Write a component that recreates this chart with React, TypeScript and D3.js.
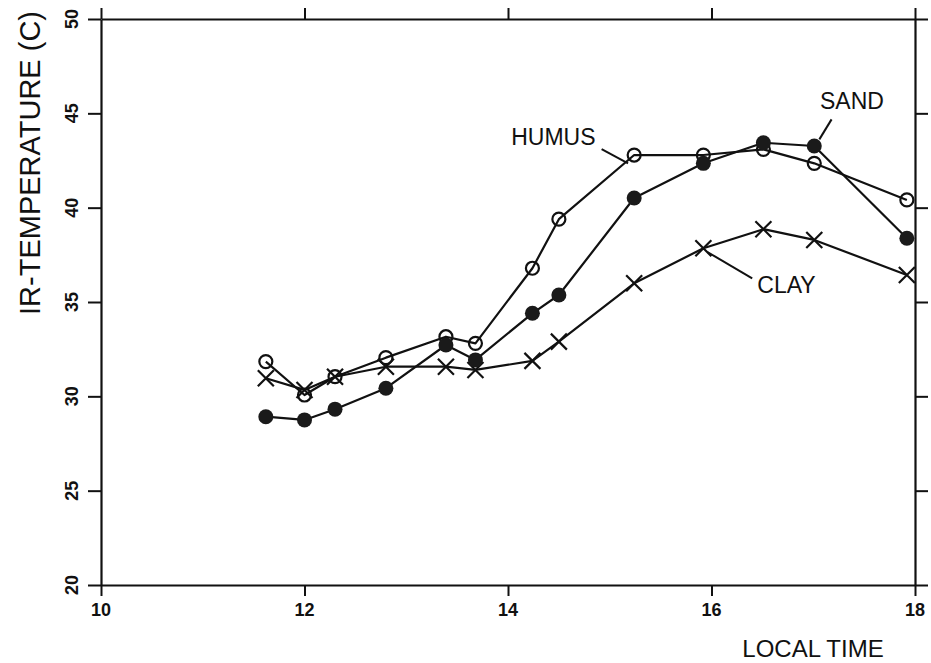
import React, { useEffect, useRef } from 'react';
import * as d3 from 'd3';

// local time (hours) of each reading, shared by the three surfaces
const times = [11.62, 12.0, 12.3, 12.8, 13.39, 13.68, 14.24, 14.5, 15.24, 15.92, 16.51, 17.01, 17.92];

const humus = [31.84, 30.07, 31.04, 32.05, 33.16, 32.81, 36.79, 39.39, 42.79, 42.79, 43.09, 42.35, 40.41];
const sand = [28.92, 28.75, 29.32, 30.43, 32.72, 31.93, 34.4, 35.37, 40.51, 42.35, 43.44, 43.27, 38.38];
const clay = [30.96, 30.34, 31.04, 31.57, 31.57, 31.4, 31.88, 32.9, 35.99, 37.85, 38.86, 38.29, 36.43];

const xTicks = [10, 12, 14, 16, 18];
const yTicks = [20, 25, 30, 35, 40, 45, 50];

interface Series {
  name: string;
  values: number[];
  marker: 'open' | 'filled' | 'cross';
  // label text anchor + leader line, in data units
  label: { x: number; y: number; anchor: string; from: [number, number]; to: [number, number] };
}

const series: Series[] = [
  { name: 'CLAY', values: clay, marker: 'cross',
    label: { x: 16.45, y: 35.48, anchor: 'start', from: [16.4, 36.25], to: [15.96, 37.65] } },
  { name: 'HUMUS', values: humus, marker: 'open',
    label: { x: 14.86, y: 43.3, anchor: 'end', from: [14.92, 43.1], to: [15.18, 42.35] } },
  { name: 'SAND', values: sand, marker: 'filled',
    label: { x: 17.38, y: 45.23, anchor: 'middle', from: [17.18, 44.68], to: [17.06, 43.62] } },
];

const W = 931;
const H = 663;
const margin = { top: 19, right: 16, bottom: 78, left: 101 };
const FONT = '"Liberation Sans", Arial, sans-serif';

const Chart: React.FC = () => {
  const ref = useRef<SVGSVGElement>(null);

  useEffect(() => {
    drawChart();
  }, []);

  const drawChart = () => {
    const svg = d3.select(ref.current);
    svg.selectAll('*').remove();
    const width = W - margin.left - margin.right;
    const height = H - margin.top - margin.bottom;

    const x = d3.scaleLinear().domain([10, 18]).range([0, width]);
    const y = d3.scaleLinear().domain([20, 50]).range([height, 0]);

    const g = svg.append('g').attr('transform', `translate(${margin.left},${margin.top})`);

    // frame: four axes, ticks pointing outward, labels drawn separately
    g.append('g')
      .attr('transform', `translate(0,${height})`)
      .call(d3.axisBottom(x).tickValues(xTicks).tickSizeInner(11).tickSizeOuter(0).tickFormat(() => ''));
    g.append('g')
      .call(d3.axisTop(x).tickValues(xTicks).tickSizeInner(11).tickSizeOuter(0).tickFormat(() => ''));
    g.append('g')
      .call(d3.axisLeft(y).tickValues(yTicks).tickSizeInner(13).tickSizeOuter(0).tickFormat(() => ''));
    g.append('g')
      .attr('transform', `translate(${width},0)`)
      .call(d3.axisRight(y).tickValues(yTicks).tickSizeInner(13).tickSizeOuter(0).tickFormat(() => ''));

    g.selectAll('.domain').attr('stroke', '#111').attr('stroke-width', 2.2);
    g.selectAll('.tick line').attr('stroke', '#111').attr('stroke-width', 2);

    // tick labels
    g.append('g').selectAll('text').data(xTicks).enter().append('text')
      .attr('x', d => x(d))
      .attr('y', height + 31)
      .attr('text-anchor', 'middle')
      .attr('font-family', FONT)
      .attr('font-size', 18)
      .attr('font-weight', 'bold')
      .attr('fill', '#111')
      .text(d => d);

    g.append('g').selectAll('text').data(yTicks).enter().append('text')
      .attr('transform', d => `translate(-23,${y(d)}) rotate(-90)`)
      .attr('text-anchor', 'middle')
      .attr('font-family', FONT)
      .attr('font-size', 18)
      .attr('font-weight', 'bold')
      .attr('fill', '#111')
      .text(d => d);

    const line = d3.line<number>()
      .x((_, i) => x(times[i]))
      .y(d => y(d));

    series.forEach(s => {
      g.append('path')
        .datum(s.values)
        .attr('fill', 'none')
        .attr('stroke', '#111')
        .attr('stroke-width', 2.2)
        .attr('stroke-linejoin', 'round')
        .attr('d', line);

      const pts = g.append('g');
      if (s.marker === 'open') {
        pts.selectAll('circle').data(s.values).enter().append('circle')
          .attr('cx', (_, i) => x(times[i]))
          .attr('cy', d => y(d))
          .attr('r', 6.5)
          .attr('fill', 'none')
          .attr('stroke', '#111')
          .attr('stroke-width', 2.2);
      } else if (s.marker === 'filled') {
        pts.selectAll('circle').data(s.values).enter().append('circle')
          .attr('cx', (_, i) => x(times[i]))
          .attr('cy', d => y(d))
          .attr('r', 7.5)
          .attr('fill', '#1a1a1a');
      } else {
        const sz = 8;
        pts.selectAll('path').data(s.values).enter().append('path')
          .attr('transform', (d, i) => `translate(${x(times[i])},${y(d)})`)
          .attr('d', `M${-sz},${-sz}L${sz},${sz}M${-sz},${sz}L${sz},${-sz}`)
          .attr('stroke', '#111')
          .attr('stroke-width', 2.2);
      }

      // series label with leader line
      g.append('line')
        .attr('x1', x(s.label.from[0])).attr('y1', y(s.label.from[1]))
        .attr('x2', x(s.label.to[0])).attr('y2', y(s.label.to[1]))
        .attr('stroke', '#111')
        .attr('stroke-width', 2);
      g.append('text')
        .attr('x', x(s.label.x))
        .attr('y', y(s.label.y))
        .attr('text-anchor', s.label.anchor)
        .attr('font-family', FONT)
        .attr('font-size', 23)
        .attr('fill', '#111')
        .text(s.name);
    });

    // axis titles
    svg.append('text')
      .attr('transform', 'translate(40,163) rotate(-90)')
      .attr('text-anchor', 'middle')
      .attr('font-family', FONT)
      .attr('font-size', 29)
      .attr('fill', '#111')
      .text('IR-TEMPERATURE (C)');

    svg.append('text')
      .attr('x', 813)
      .attr('y', 657)
      .attr('text-anchor', 'middle')
      .attr('font-family', FONT)
      .attr('font-size', 24)
      .attr('fill', '#111')
      .text('LOCAL TIME');
  };

  return <svg ref={ref} width={W} height={H} style={{ position: 'absolute', left: 0, top: 0, background: '#fff' }} />;
};

export default function App() {
  return <Chart />;
}
